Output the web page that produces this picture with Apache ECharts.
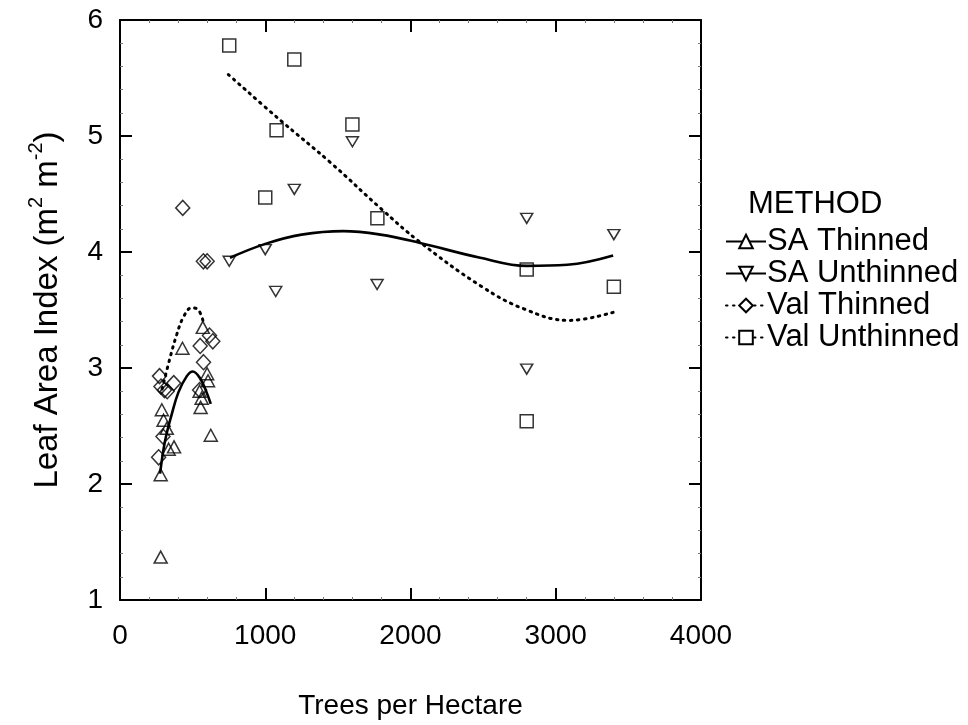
<!DOCTYPE html>
<html>
<head>
<meta charset="utf-8">
<script src="https://cdn.jsdelivr.net/npm/echarts@6/dist/echarts.min.js"></script>
<style>
  html, body { margin: 0; padding: 0; background: #fff; }
  #chart { width: 968px; height: 725px; }
</style>
</head>
<body>
<div id="chart"></div>
<script>
// Observed leaf area index by stand density, [trees per hectare, LAI]
const saThinned = [
  [280, 1.37], [280, 2.08], [288, 2.64], [300, 2.55], [322, 2.48], [335, 2.30],
  [372, 2.32], [430, 3.17], [570, 3.35], [600, 2.95], [606, 2.89], [548, 2.80],
  [562, 2.74], [555, 2.66], [625, 2.42]
];
const saUnthinned = [
  [752, 3.92], [1000, 4.02], [1072, 3.66], [1200, 4.54], [1600, 4.95],
  [1770, 3.72], [2800, 4.29], [2800, 2.99], [3400, 4.15]
];
const valThinned = [
  [432, 4.38], [574, 3.92], [600, 3.92], [272, 2.93], [370, 2.87], [282, 2.84],
  [306, 2.81], [325, 2.80], [552, 3.19], [616, 3.28], [639, 3.23], [575, 3.05],
  [548, 2.81], [296, 2.41], [266, 2.23]
];
const valUnthinned = [
  [752, 5.78], [1200, 5.66], [1078, 5.05], [1600, 5.10], [1000, 4.47],
  [1772, 4.29], [2800, 3.85], [3400, 3.70], [2800, 2.54]
];

// Fitted trend curves for each method
const saThinnedFit = [
  [276, 2.09], [310, 2.37], [356, 2.60], [402, 2.79], [460, 2.93], [501, 2.97],
  [552, 2.91], [593, 2.80], [625, 2.69]
];
const saUnthinnedFit = [
  [757, 3.95], [1000, 4.07], [1250, 4.15], [1538, 4.18], [1793, 4.15],
  [2060, 4.08], [2480, 3.95], [2800, 3.88], [3080, 3.89], [3395, 3.97]
];
const valThinnedFit = [
  [290, 2.82], [345, 3.09], [391, 3.29], [437, 3.44], [494, 3.52],
  [540, 3.50], [575, 3.39]
];
const valUnthinnedFit = [
  [746, 5.53], [1100, 5.14], [1450, 4.77], [1800, 4.37], [2060, 4.09],
  [2480, 3.71], [2780, 3.51], [3090, 3.41], [3395, 3.48]
];

const methods = ['SA Thinned', 'SA Unthinned', 'Val Thinned', 'Val Unthinned'];
const xTicks = { min: 0, max: 4000, interval: 1000 };
const yTicks = { min: 1, max: 6, interval: 1 };

const FONT = '"Liberation Sans", Arial, Helvetica, sans-serif';
const INK = '#000';
const dotted = [1.5, 5.5];

function axisBase(show, margin) {
  return {
    axisLine: { show: true, onZero: false, lineStyle: { color: INK, width: 2 } },
    axisTick: { show: true, inside: true, length: 12, lineStyle: { color: INK, width: 2 } },
    minorTick: { show: true, splitNumber: 5, length: 3, lineStyle: { color: '#777', width: 1 } },
    splitLine: { show: false },
    axisLabel: {
      show: show, color: INK, fontFamily: FONT, fontSize: 28, margin: margin,
      formatter: function (v) { return String(v); }
    }
  };
}

function fitSeries(name, data, solid, symbol, rotate) {
  return {
    name: name,
    type: 'line',
    data: data,
    smooth: 0.4,
    showSymbol: false,
    symbol: symbol,
    symbolRotate: rotate,
    silent: true,
    itemStyle: { color: '#fff', borderColor: INK, borderWidth: 1.5 },
    lineStyle: solid
      ? { color: INK, width: 2.6 }
      : { color: INK, width: 3, type: dotted, cap: 'round' },
    z: 2
  };
}

function pointSeries(name, data, symbol, size, rotate) {
  return {
    name: name,
    type: 'scatter',
    data: data,
    symbol: symbol,
    symbolSize: size,
    symbolRotate: rotate,
    itemStyle: { color: 'rgba(0,0,0,0)', borderColor: INK, borderWidth: 1.5 },
    z: 3
  };
}

const chart = echarts.init(document.getElementById('chart'), null, { renderer: 'canvas' });

chart.setOption({
  animation: false,
  backgroundColor: '#fff',
  textStyle: { fontFamily: FONT, color: INK },
  title: {
    text: 'METHOD',
    left: 743,
    top: 184,
    textStyle: { fontFamily: FONT, fontSize: 31, fontWeight: 'normal', color: INK }
  },
  legend: {
    data: methods,
    orient: 'vertical',
    left: 720,
    top: 221,
    itemWidth: 40,
    itemHeight: 17,
    itemGap: 1,
    textStyle: { fontFamily: FONT, fontSize: 31, lineHeight: 28, color: INK, padding: [0, 0, 0, -4] },
    selectedMode: false
  },
  grid: { left: 120, right: 267, top: 20, bottom: 125 },
  xAxis: [
    Object.assign(axisBase(true, 22), {
      type: 'value', position: 'bottom',
      min: xTicks.min, max: xTicks.max, interval: xTicks.interval,
      name: 'Trees per Hectare',
      nameLocation: 'middle',
      nameGap: 92,
      nameTextStyle: { fontFamily: FONT, fontSize: 28, color: INK }
    }),
    Object.assign(axisBase(false, 8), {
      type: 'value', position: 'top',
      min: xTicks.min, max: xTicks.max, interval: xTicks.interval
    })
  ],
  yAxis: [
    Object.assign(axisBase(true, 17), {
      type: 'value', position: 'left',
      min: yTicks.min, max: yTicks.max, interval: yTicks.interval,
      name: '{t|Leaf Area Index (m}{s|2}{t| m}{s|-2}{t|)}',
      nameLocation: 'middle',
      nameGap: 56,
      nameRotate: 90,
      nameTextStyle: {
        fontFamily: FONT, fontSize: 33, color: INK,
        rich: {
          t: { fontFamily: FONT, fontSize: 33, lineHeight: 38, verticalAlign: 'bottom', color: INK },
          s: { fontFamily: FONT, fontSize: 20, lineHeight: 20, verticalAlign: 'top', color: INK }
        }
      }
    }),
    Object.assign(axisBase(false, 8), {
      type: 'value', position: 'right',
      min: yTicks.min, max: yTicks.max, interval: yTicks.interval
    })
  ],
  series: [
    fitSeries('SA Thinned', saThinnedFit, true, 'triangle', 0),
    fitSeries('SA Unthinned', saUnthinnedFit, true, 'triangle', 180),
    fitSeries('Val Thinned', valThinnedFit, false, 'diamond', 0),
    fitSeries('Val Unthinned', valUnthinnedFit, false, 'rect', 0),
    pointSeries('SA Thinned', saThinned, 'triangle', [13, 12], 0),
    pointSeries('SA Unthinned', saUnthinned, 'triangle', [12, 10], 180),
    pointSeries('Val Thinned', valThinned, 'diamond', [14, 15], 0),
    pointSeries('Val Unthinned', valUnthinned, 'rect', [13, 13], 0)
  ]
});
</script>
</body>
</html>
